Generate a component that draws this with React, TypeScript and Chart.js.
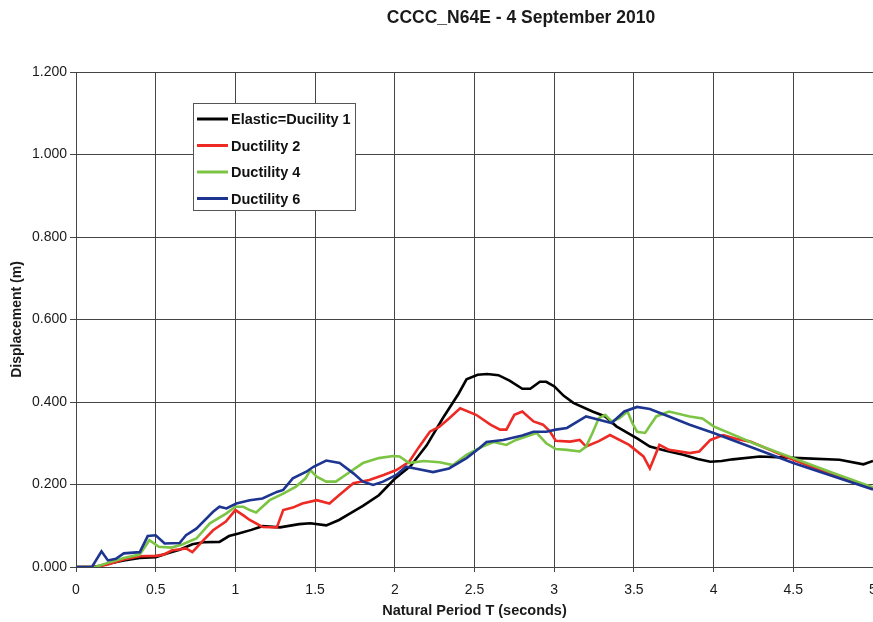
import { useEffect, useRef } from "react";
import { Chart, registerables } from "chart.js";

Chart.register(...registerables);

const TITLE = "CCCC_N64E - 4 September 2010";
const X_TITLE = "Natural Period T (seconds)";
const Y_TITLE = "Displacement (m)";

const SERIES_LABELS = ["Elastic=Ducility 1", "Ductility 2", "Ductility 4", "Ductility 6"];
const SERIES_COLORS = ["#000000", "#ee2a24", "#7cc443", "#1d3591"];

const elasticT = [0, 0.1, 0.15, 0.2, 0.3, 0.4, 0.5, 0.58, 0.65, 0.73, 0.8, 0.9, 0.96, 1.02, 1.1, 1.17, 1.28, 1.4, 1.47, 1.57, 1.65, 1.72, 1.8, 1.9, 2.0, 2.1, 2.2, 2.3, 2.4, 2.45, 2.52, 2.58, 2.65, 2.72, 2.8, 2.85, 2.91, 2.95, 3.0, 3.06, 3.12, 3.24, 3.32, 3.39, 3.52, 3.6, 3.7, 3.81, 3.9, 3.98, 4.05, 4.12, 4.29, 4.54, 4.79, 4.94, 5.0];
const elasticD = [0, 0, 0.003, 0.008, 0.016, 0.022, 0.024, 0.034, 0.042, 0.055, 0.06, 0.061, 0.075, 0.081, 0.09, 0.099, 0.096, 0.104, 0.106, 0.101, 0.114, 0.13, 0.148, 0.174, 0.214, 0.245, 0.295, 0.36, 0.42, 0.455, 0.466, 0.468, 0.465, 0.452, 0.432, 0.432, 0.449, 0.449, 0.438, 0.415, 0.398, 0.377, 0.365, 0.341, 0.312, 0.292, 0.282, 0.272, 0.262, 0.255, 0.257, 0.261, 0.268, 0.264, 0.26, 0.249, 0.257];

const duct2T = [0, 0.1, 0.15, 0.2, 0.3, 0.4, 0.5, 0.55, 0.6, 0.69, 0.73, 0.8, 0.86, 0.94, 1.0, 1.05, 1.09, 1.17, 1.26, 1.3, 1.36, 1.42, 1.51, 1.59, 1.65, 1.74, 1.84, 1.93, 2.01, 2.09, 2.15, 2.22, 2.28, 2.34, 2.41, 2.51, 2.6, 2.66, 2.7, 2.75, 2.8, 2.87, 2.93, 2.97, 3.01, 3.1, 3.16, 3.2, 3.28, 3.35, 3.47, 3.56, 3.6, 3.66, 3.72, 3.85, 3.91, 3.98, 4.06, 4.15, 4.23, 4.33, 4.5, 4.75, 5.0];
const duct2D = [0, 0, 0.002, 0.006, 0.018, 0.026, 0.027, 0.03, 0.04, 0.045, 0.036, 0.065, 0.089, 0.11, 0.138, 0.125, 0.114, 0.097, 0.096, 0.138, 0.144, 0.154, 0.162, 0.154, 0.174, 0.203, 0.211, 0.223, 0.235, 0.255, 0.29, 0.328, 0.34, 0.36, 0.385, 0.369, 0.345, 0.333, 0.333, 0.369, 0.377, 0.353, 0.345, 0.33, 0.306, 0.304, 0.308, 0.292, 0.305, 0.32, 0.296, 0.268, 0.239, 0.296, 0.284, 0.276, 0.28, 0.308, 0.32, 0.31, 0.304, 0.288, 0.26, 0.223, 0.191];

const duct4T = [0, 0.12, 0.2, 0.3, 0.4, 0.46, 0.52, 0.6, 0.67, 0.755, 0.84, 0.944, 1.0, 1.05, 1.09, 1.13, 1.215, 1.3, 1.38, 1.44, 1.47, 1.51, 1.57, 1.63, 1.72, 1.8, 1.9, 1.99, 2.03, 2.09, 2.18, 2.28, 2.365, 2.45, 2.55, 2.62, 2.7, 2.76, 2.89, 2.95, 3.01, 3.08, 3.16, 3.2, 3.24, 3.28, 3.32, 3.36, 3.41, 3.46, 3.49, 3.52, 3.57, 3.64, 3.72, 3.85, 3.93, 4.0, 4.25, 4.5, 4.75, 5.0];
const duct4D = [0, 0, 0.01, 0.022, 0.03, 0.065, 0.049, 0.047, 0.055, 0.069, 0.106, 0.13, 0.146, 0.146, 0.138, 0.132, 0.162, 0.178, 0.195, 0.215, 0.235, 0.219, 0.207, 0.207, 0.231, 0.252, 0.264, 0.269, 0.268, 0.252, 0.257, 0.254, 0.247, 0.272, 0.292, 0.303, 0.296, 0.308, 0.325, 0.3, 0.286, 0.284, 0.28, 0.292, 0.325, 0.361, 0.369, 0.353, 0.361, 0.377, 0.349, 0.328, 0.325, 0.365, 0.377, 0.365, 0.36, 0.341, 0.3, 0.264, 0.228, 0.193];

const duct6T = [0, 0.1, 0.16, 0.2, 0.25, 0.3, 0.4, 0.45, 0.5, 0.556, 0.65, 0.69, 0.755, 0.86, 0.9, 0.944, 1.006, 1.09, 1.17, 1.26, 1.3, 1.36, 1.445, 1.49, 1.57, 1.654, 1.74, 1.8, 1.864, 1.926, 2.01, 2.07, 2.135, 2.24, 2.34, 2.45, 2.53, 2.575, 2.68, 2.8, 2.87, 2.95, 3.01, 3.08, 3.2, 3.28, 3.36, 3.44, 3.52, 3.6, 3.72, 3.85, 4.0, 4.5, 5.0];
const duct6D = [0, 0, 0.038, 0.016, 0.02, 0.033, 0.036, 0.075, 0.077, 0.057, 0.058, 0.077, 0.093, 0.134, 0.146, 0.142, 0.154, 0.162, 0.166, 0.182, 0.187, 0.215, 0.231, 0.243, 0.258, 0.252, 0.227, 0.207, 0.199, 0.207, 0.223, 0.243, 0.238, 0.23, 0.239, 0.264, 0.288, 0.303, 0.308, 0.319, 0.328, 0.328, 0.333, 0.337, 0.365, 0.357, 0.349, 0.377, 0.388, 0.383, 0.365, 0.345, 0.325, 0.252, 0.188];

const SERIES_T = [elasticT, duct2T, duct4T, duct6T];
const SERIES_D = [elasticD, duct2D, duct4D, duct6D];

const FONT = '"Liberation Sans", Arial, sans-serif';
const GRID = "#444444";

const overlayPlugin = {
  id: "overlay",
  afterDraw(chart: any) {
    const ctx = chart.ctx as CanvasRenderingContext2D;
    ctx.save();
    // title
    ctx.fillStyle = "#1a1a1a";
    ctx.font = `bold 17.5px ${FONT}`;
    ctx.textAlign = "center";
    ctx.textBaseline = "middle";
    ctx.fillText(TITLE, 521, 18.5);

    // legend box
    const bx = 193, by = 103, bw = 162, bh = 107;
    ctx.fillStyle = "#ffffff";
    ctx.fillRect(bx, by, bw, bh);
    ctx.strokeStyle = "#555555";
    ctx.lineWidth = 1;
    ctx.strokeRect(bx + 0.5, by + 0.5, bw, bh);
    ctx.font = `bold 14.5px ${FONT}`;
    ctx.textAlign = "left";
    chart.data.datasets.forEach((ds: any, i: number) => {
      const y = by + 16 + i * 26.5;
      ctx.strokeStyle = ds.borderColor;
      ctx.lineWidth = 3;
      ctx.beginPath();
      ctx.moveTo(bx + 4, y);
      ctx.lineTo(bx + 35, y);
      ctx.stroke();
      ctx.fillStyle = "#111111";
      ctx.fillText(ds.label, bx + 38, y + 1);
    });
    ctx.restore();
  },
};

export default function App() {
  const ref = useRef<HTMLCanvasElement | null>(null);

  useEffect(() => {
    if (!ref.current) return;
    const datasets = SERIES_LABELS.map((label, i) => ({
      label,
      data: SERIES_T[i].map((t, j) => ({ x: t, y: SERIES_D[i][j] })),
      borderColor: SERIES_COLORS[i],
      backgroundColor: SERIES_COLORS[i],
      borderWidth: 2.6,
      pointRadius: 0,
      tension: 0,
      order: SERIES_LABELS.length - 1 - i,
    }));
    const chart = new Chart(ref.current, {
      type: "line",
      data: { datasets },
      options: {
        animation: false,
        responsive: false,
        devicePixelRatio: 1,
        layout: { padding: { left: 0, right: 40, top: 72, bottom: 0 } },
        plugins: {
          legend: { display: false },
          title: { display: false },
          tooltip: { enabled: false },
        },
        scales: {
          x: {
            type: "linear",
            min: 0,
            max: 5,
            ticks: {
              stepSize: 0.5,
              color: "#1a1a1a",
              font: { family: FONT, size: 14 },
              padding: 10,
              maxRotation: 0,
              callback: (v: any) => String(Math.round(Number(v) * 10) / 10),
            },
            grid: { color: GRID, lineWidth: 1, tickLength: 5, tickColor: GRID },
            border: { color: GRID },
            title: {
              display: true,
              text: X_TITLE,
              color: "#1a1a1a",
              font: { family: FONT, size: 14.5, weight: "bold" },
              padding: { top: 2, bottom: 2 },
            },
            afterFit: (scale: any) => {
              scale.height = 55;
            },
          },
          y: {
            type: "linear",
            min: 0,
            max: 1.2,
            ticks: {
              stepSize: 0.2,
              color: "#1a1a1a",
              font: { family: FONT, size: 14 },
              padding: 3,
              callback: (v: any) => Number(v).toFixed(3),
            },
            grid: { color: GRID, lineWidth: 1, tickLength: 6, tickColor: GRID },
            border: { color: GRID },
            title: {
              display: true,
              text: Y_TITLE,
              color: "#1a1a1a",
              font: { family: FONT, size: 14, weight: "bold" },
              padding: { top: 9, bottom: 0 },
            },
            afterFit: (scale: any) => {
              scale.width = 76;
            },
          },
        },
      },
      plugins: [overlayPlugin],
    });
    return () => chart.destroy();
  }, []);

  return (
    <div
      style={{
        position: "fixed",
        left: 0,
        top: 0,
        width: 873,
        height: 622,
        overflow: "hidden",
        background: "#ffffff",
      }}
    >
      <canvas ref={ref} width={913} height={622} style={{ display: "block", width: 913, height: 622 }} />
    </div>
  );
}
